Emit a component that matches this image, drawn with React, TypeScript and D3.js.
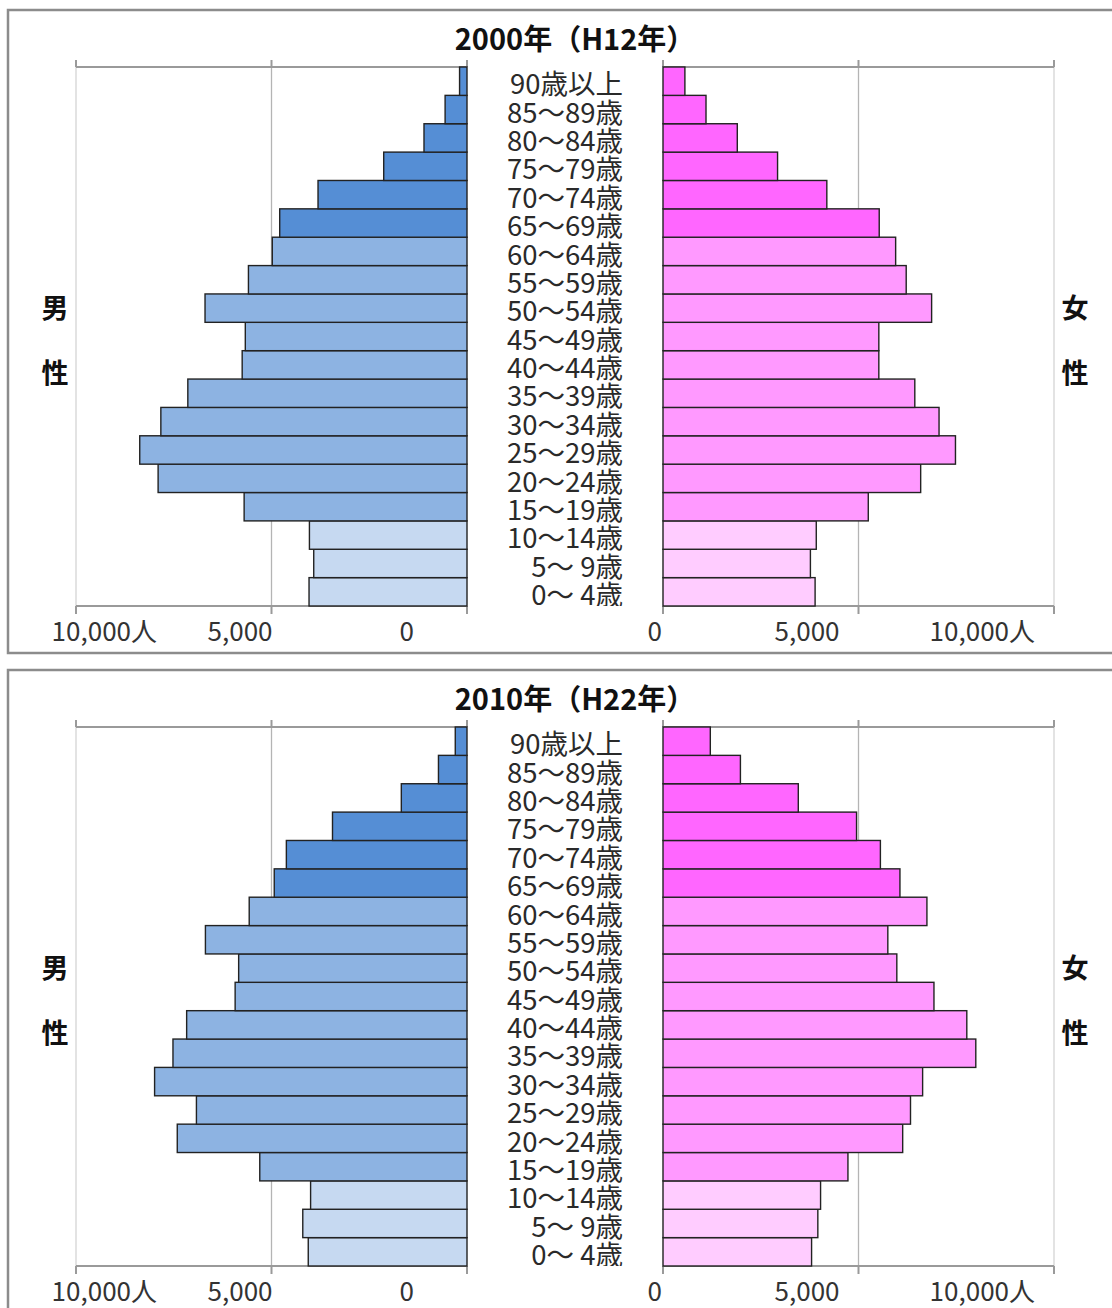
import React from "react";
import * as d3 from "d3";

// Age bands, youngest first
const AGE_GROUPS = [
  "0～ 4歳", "5～ 9歳", "10～14歳", "15～19歳", "20～24歳", "25～29歳",
  "30～34歳", "35～39歳", "40～44歳", "45～49歳", "50～54歳", "55～59歳",
  "60～64歳", "65～69歳", "70～74歳", "75～79歳", "80～84歳", "85～89歳", "90歳以上",
];

// Population (persons) per age band, youngest first
const MALE_2000 = [4040, 3920, 4030, 5700, 7900, 8370, 7830, 7140, 5750, 5670, 6700, 5590, 4980, 4790, 3810, 2130, 1100, 560, 190];
const FEMALE_2000 = [3890, 3770, 3920, 5250, 6590, 7480, 7060, 6440, 5520, 5520, 6870, 6220, 5950, 5530, 4190, 2930, 1900, 1100, 560];
const MALE_2010 = [4060, 4200, 4000, 5300, 7410, 6920, 7990, 7520, 7170, 5930, 5840, 6690, 5570, 4930, 4620, 3440, 1680, 730, 300];
const FEMALE_2010 = [3800, 3960, 4030, 4730, 6130, 6330, 6640, 8000, 7770, 6930, 5980, 5750, 6750, 6060, 5560, 4950, 3460, 1980, 1210];

const PANEL_TITLES = ["2000年（H12年）", "2010年（H22年）"];
const AXIS_TICKS = [0, 5000, 10000];
const AXIS_TICK_LABELS = ["0", "5,000", "10,000人"];

// Layout
const W = 1112;
const H = 1308;
const PANEL_STEP = 660;
const PLOT_TOP = 67;
const PLOT_BOTTOM = 606;
const MALE_ZERO = 467;
const MALE_MAX = 76;
const FEMALE_ZERO = 663;
const FEMALE_MAX = 1054;
const LABEL_RIGHT = 623;
// tick-label anchor offsets (text-anchor end) from each tick
const MALE_LABEL_DX = [-53, 1, 81];
const FEMALE_LABEL_DX = [-1, -19, -19];

const FONT = "'Noto Sans CJK JP', 'Noto Sans', sans-serif";

const MALE_COLORS = { young: "#c6d9f1", working: "#8db3e2", old: "#558ed5" };
const FEMALE_COLORS = { young: "#ffccff", working: "#ff99ff", old: "#ff66ff" };

function groupOf(i: number): "young" | "working" | "old" {
  if (i < 3) return "young";
  if (i < 13) return "working";
  return "old";
}

function Panel({ idx, title, male, female }: { idx: number; title: string; male: number[]; female: number[] }) {
  const y = d3.scaleBand<string>().domain([...AGE_GROUPS].reverse()).range([PLOT_TOP, PLOT_BOTTOM]).padding(0);
  const xm = d3.scaleLinear().domain([0, 10000]).range([MALE_ZERO, MALE_MAX]);
  const xf = d3.scaleLinear().domain([0, 10000]).range([FEMALE_ZERO, FEMALE_MAX]);
  const clipId = `rows-${idx}`;

  return (
    <g transform={`translate(0,${idx * PANEL_STEP})`}>
      <rect x={8} y={10} width={1130} height={643} fill="#fff" stroke="#8c8c8c" strokeWidth={2.5} />
      <defs>
        <clipPath id={clipId}>
          <rect x={0} y={PLOT_TOP - 12} width={W} height={PLOT_BOTTOM - PLOT_TOP + 12} />
        </clipPath>
      </defs>

      <text x={575} y={50} textAnchor="middle" fontFamily={FONT} fontWeight="bold" fontSize={29} fill="#111">
        {title}
      </text>

      {/* vertical gridlines */}
      {AXIS_TICKS.filter((t) => t > 0).map((t) => (
        <g key={`g${t}`}>
          <line x1={xm(t)} x2={xm(t)} y1={PLOT_TOP} y2={PLOT_BOTTOM} stroke={t === 10000 ? "#d4d4d4" : "#b4b4b4"} strokeWidth={1.3} />
          <line x1={xf(t)} x2={xf(t)} y1={PLOT_TOP} y2={PLOT_BOTTOM} stroke={t === 10000 ? "#d4d4d4" : "#b4b4b4"} strokeWidth={1.3} />
        </g>
      ))}

      {/* top / bottom axis lines with ticks */}
      {[xm, xf].map((sc, k) => (
        <g key={`ax${k}`} stroke="#9a9a9a" strokeWidth={2}>
          <line x1={sc(0)} x2={sc(10000)} y1={PLOT_TOP} y2={PLOT_TOP} />
          <line x1={sc(0)} x2={sc(10000)} y1={PLOT_BOTTOM} y2={PLOT_BOTTOM} />
          {AXIS_TICKS.map((t) => (
            <g key={t}>
              <line x1={sc(t)} x2={sc(t)} y1={PLOT_TOP - 7} y2={PLOT_TOP} />
              <line x1={sc(t)} x2={sc(t)} y1={PLOT_BOTTOM} y2={PLOT_BOTTOM + 8} />
            </g>
          ))}
        </g>
      ))}

      {/* male bars */}
      {male.map((v, i) => (
        <rect
          key={`m${i}`}
          x={xm(v)}
          y={y(AGE_GROUPS[i])!}
          width={xm(0) - xm(v)}
          height={y.bandwidth()}
          fill={MALE_COLORS[groupOf(i)]}
          stroke="#222"
          strokeWidth={1.4}
        />
      ))}

      {/* female bars */}
      {female.map((v, i) => (
        <rect
          key={`f${i}`}
          x={xf(0)}
          y={y(AGE_GROUPS[i])!}
          width={xf(v) - xf(0)}
          height={y.bandwidth()}
          fill={FEMALE_COLORS[groupOf(i)]}
          stroke="#222"
          strokeWidth={1.4}
        />
      ))}

      {/* age band labels */}
      <g clipPath={`url(#${clipId})`}>
        {AGE_GROUPS.map((a) => (
          <text key={a} x={LABEL_RIGHT} y={y(a)! + y.bandwidth() - 1} textAnchor="end" fontFamily={FONT} fontSize={27.5} fill="#2a2a2a">
            {a}
          </text>
        ))}
      </g>

      {/* axis tick labels */}
      {AXIS_TICKS.map((t, k) => (
        <g key={`tl${t}`} fontFamily={FONT} fontSize={26} fill="#333">
          <text x={xm(t) + MALE_LABEL_DX[k]} y={641} textAnchor="end">{AXIS_TICK_LABELS[k]}</text>
          <text x={xf(t) + FEMALE_LABEL_DX[k]} y={641} textAnchor="end">{AXIS_TICK_LABELS[k]}</text>
        </g>
      ))}

      {/* side captions */}
      <g fontFamily={FONT} fontSize={27} fontWeight="bold" fill="#111" textAnchor="middle" dominantBaseline="central">
        <text x={55} y={306}>男</text>
        <text x={55} y={371}>性</text>
        <text x={1075} y={306}>女</text>
        <text x={1075} y={371}>性</text>
      </g>
    </g>
  );
}

export default function App() {
  const panels = [
    { title: PANEL_TITLES[0], male: MALE_2000, female: FEMALE_2000 },
    { title: PANEL_TITLES[1], male: MALE_2010, female: FEMALE_2010 },
  ];
  return (
    <svg width={W} height={H} style={{ position: "absolute", left: 0, top: 0, background: "#fff" }}>
      <rect width={W} height={H} fill="#fff" />
      {panels.map((p, i) => (
        <Panel key={i} idx={i} title={p.title} male={p.male} female={p.female} />
      ))}
    </svg>
  );
}
